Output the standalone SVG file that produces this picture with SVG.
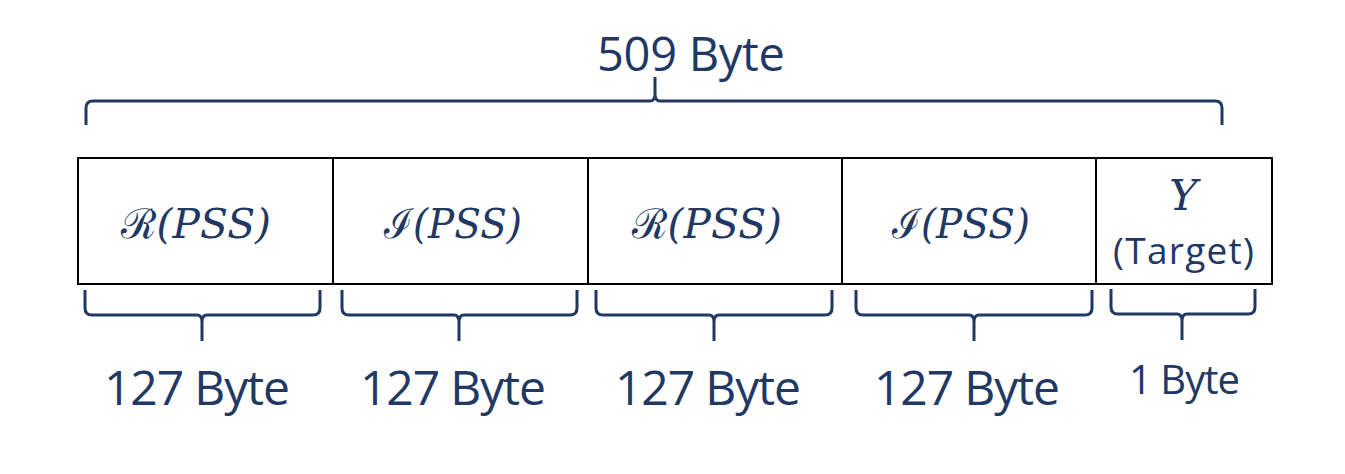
<svg xmlns="http://www.w3.org/2000/svg" width="1345" height="474" viewBox="0 0 1345 474">
<style>
.cell{fill:#ffffff;stroke:#000000;stroke-width:2}
.brace{fill:none;stroke:#1F3864;stroke-width:3;stroke-linecap:butt;stroke-linejoin:round}
.lbl{font-family:"Open Sans","Liberation Sans",sans-serif;fill:#1F3864}
.math{font-family:"DejaVu Serif","Liberation Serif",serif;font-style:italic;fill:#1F3864;font-size:41px}
.scr{font-family:"DejaVu Serif","Noto Sans",serif;font-style:normal}
</style>
<rect width="1345" height="474" fill="#ffffff"/>
<g id="cell1">
<rect class="cell" x="78" y="158" width="255" height="126"/>
<text class="math" x="121" y="238" textLength="150" lengthAdjust="spacingAndGlyphs"><tspan class="scr">ℛ</tspan>(PSS)</text>
</g>
<g id="cell2">
<rect class="cell" x="333" y="158" width="255" height="126"/>
<text class="math" x="384" y="238" textLength="138" lengthAdjust="spacingAndGlyphs"><tspan class="scr">ℐ</tspan>(PSS)</text>
</g>
<g id="cell3">
<rect class="cell" x="588" y="158" width="254" height="126"/>
<text class="math" x="632" y="238" textLength="150" lengthAdjust="spacingAndGlyphs"><tspan class="scr">ℛ</tspan>(PSS)</text>
</g>
<g id="cell4">
<rect class="cell" x="842" y="158" width="254" height="126"/>
<text class="math" x="892" y="238" textLength="138" lengthAdjust="spacingAndGlyphs"><tspan class="scr">ℐ</tspan>(PSS)</text>
</g>
<g id="cell5">
<rect class="cell" x="1096" y="158" width="176" height="126"/>
<text class="math" x="1169" y="210" style="font-size:43px">Y</text>
<text class="lbl" x="1183.5" y="264" text-anchor="middle" font-size="37" textLength="141">(Target)</text>
</g>
<g id="connectors">
<path class="brace" d="M86,125 V108 Q86,101 93,101 H650 Q655,101 655,94 V77 M655,94 Q655,101 660,101 H1215 Q1222,101 1222,108 V125"/>
<path class="brace" d="M85,290 V308 Q85,315 92,315 H197 Q202,315 202,322 V341 M202,322 Q202,315 207,315 H313 Q320,315 320,308 V290"/>
<path class="brace" d="M342,290 V308 Q342,315 349,315 H454 Q459,315 459,322 V341 M459,322 Q459,315 464,315 H570 Q577,315 577,308 V290"/>
<path class="brace" d="M596,290 V308 Q596,315 603,315 H709 Q714,315 714,322 V341 M714,322 Q714,315 719,315 H825 Q832,315 832,308 V290"/>
<path class="brace" d="M856,290 V308 Q856,315 863,315 H969 Q974,315 974,322 V341 M974,322 Q974,315 979,315 H1085 Q1092,315 1092,308 V290"/>
<path class="brace" d="M1111,289 V307 Q1111,314 1118,314 H1177 Q1182,314 1182,321 V340 M1182,321 Q1182,314 1187,314 H1248 Q1255,314 1255,307 V289"/>
</g>
<g id="labels">
<text class="lbl" x="597" y="71" font-size="47" textLength="188">509 Byte</text>
<text class="lbl" x="197" y="405" text-anchor="middle" font-size="48" textLength="186">127 Byte</text>
<text class="lbl" x="453" y="405" text-anchor="middle" font-size="48" textLength="186">127 Byte</text>
<text class="lbl" x="708" y="405" text-anchor="middle" font-size="48" textLength="186">127 Byte</text>
<text class="lbl" x="967" y="405" text-anchor="middle" font-size="48" textLength="186">127 Byte</text>
<text class="lbl" x="1184.5" y="394" text-anchor="middle" font-size="40" textLength="111">1 Byte</text>
</g>
</svg>
